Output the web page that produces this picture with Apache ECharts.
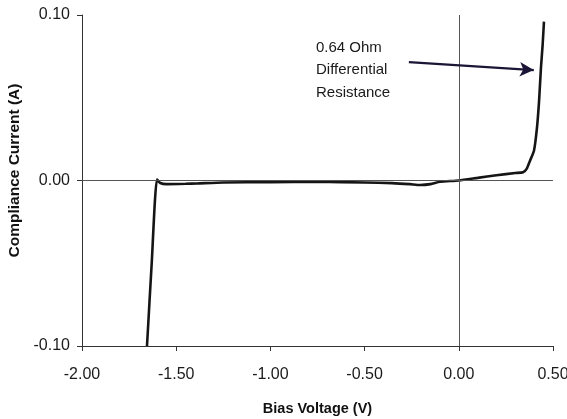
<!DOCTYPE html>
<html>
<head>
<meta charset="utf-8">
<script src="https://cdn.jsdelivr.net/npm/echarts@6/dist/echarts.min.js"></script>
<style>
  html, body { margin: 0; padding: 0; background: #fff; }
  #chart { width: 567px; height: 419px; }
</style>
</head>
<body>
<div id="chart"></div>
<script>
// I-V sweep: bias voltage (V) vs compliance current (A)
const biasVoltage = [
  -1.655, -1.630, -1.602, -1.585, -1.550, -1.450, -1.390, -1.250, -1.000,
  -0.750, -0.500, -0.355, -0.260, -0.206, -0.150, -0.100, 0.000, 0.100,
  0.200, 0.300, 0.341, 0.360, 0.378, 0.399, 0.415, 0.426, 0.436, 0.445, 0.452
];
const complianceCurrent = [
  -0.100, -0.050, 0.0006, -0.0015, -0.0022, -0.0020, -0.0018, -0.0012, -0.0010,
  -0.0008, -0.0012, -0.0016, -0.0022, -0.0027, -0.0022, -0.0008, 0.0000, 0.0016,
  0.0032, 0.0045, 0.0050, 0.0070, 0.0120, 0.0180, 0.0320, 0.0480, 0.0680, 0.0820, 0.0960
];
const xTicks = { min: -2.0, max: 0.5, step: 0.5 };
const yTicks = { min: -0.1, max: 0.1, step: 0.1 };
const noteLines = ['0.64 Ohm', 'Differential', 'Resistance'];
const notePos = [-0.758, 0.0667];
const arrowFrom = [-0.265, 0.0715];
const arrowTo = [0.398, 0.0667];

const FONT = "'Liberation Sans', Arial, sans-serif";
const points = biasVoltage.map((v, i) => [v, complianceCurrent[i]]);

const chart = echarts.init(document.getElementById('chart'), null, { renderer: 'canvas' });
chart.setOption({
  animation: false,
  backgroundColor: '#ffffff',
  grid: { left: 82, right: 14, top: 15, bottom: 73, containLabel: false, outerBoundsMode: 'none' },
  xAxis: {
    type: 'value',
    min: xTicks.min, max: xTicks.max, interval: xTicks.step,
    name: 'Bias Voltage (V)',
    nameLocation: 'middle',
    nameGap: 55,
    nameTextStyle: { fontFamily: FONT, fontWeight: 'bold', fontSize: 14.5, color: '#111' },
    axisLine: { onZero: false, lineStyle: { color: '#333', width: 1 } },
    axisTick: { length: 5, lineStyle: { color: '#333' } },
    axisLabel: { fontFamily: FONT, fontSize: 16, color: '#1a1a1a', margin: 21,
      formatter: v => v.toFixed(2) },
    splitLine: { show: false }
  },
  yAxis: {
    type: 'value',
    min: yTicks.min, max: yTicks.max, interval: yTicks.step,
    name: 'Compliance Current (A)',
    nameLocation: 'middle',
    nameGap: 57,
    nameTextStyle: { fontFamily: FONT, fontWeight: 'bold', fontSize: 15.5, color: '#111',
      padding: [0, 0, 0, 20] },
    axisLine: { onZero: false, lineStyle: { color: '#333', width: 1 } },
    axisTick: { length: 5, lineStyle: { color: '#333' } },
    axisLabel: { fontFamily: FONT, fontSize: 16, color: '#1a1a1a', margin: 12,
      formatter: v => v.toFixed(2) },
    splitLine: { show: false }
  },
  series: [{
    type: 'line',
    data: points,
    showSymbol: false,
    smooth: 0.2,
    lineStyle: { color: '#151515', width: 2.6 },
    markLine: {
      silent: true,
      symbol: ['none', 'none'],
      label: { show: false },
      lineStyle: { color: '#555', width: 1, type: 'solid' },
      data: [
        { yAxis: 0 },
        { xAxis: 0 },
        [
          { coord: arrowFrom, symbol: 'none', lineStyle: { color: '#1c1536', width: 2.2 } },
          { coord: arrowTo, symbol: 'arrow', symbolSize: [11, 14] }
        ]
      ]
    },
    markPoint: {
      silent: true,
      symbol: 'circle',
      symbolSize: 0,
      data: [{ coord: notePos }],
      label: {
        show: true,
        position: [0, 0],
        align: 'left',
        verticalAlign: 'middle',
        fontFamily: FONT,
        fontSize: 15,
        lineHeight: 22.5,
        color: '#1a1a1a',
        formatter: () => noteLines.join('\n')
      }
    }
  }]
});
</script>
</body>
</html>
